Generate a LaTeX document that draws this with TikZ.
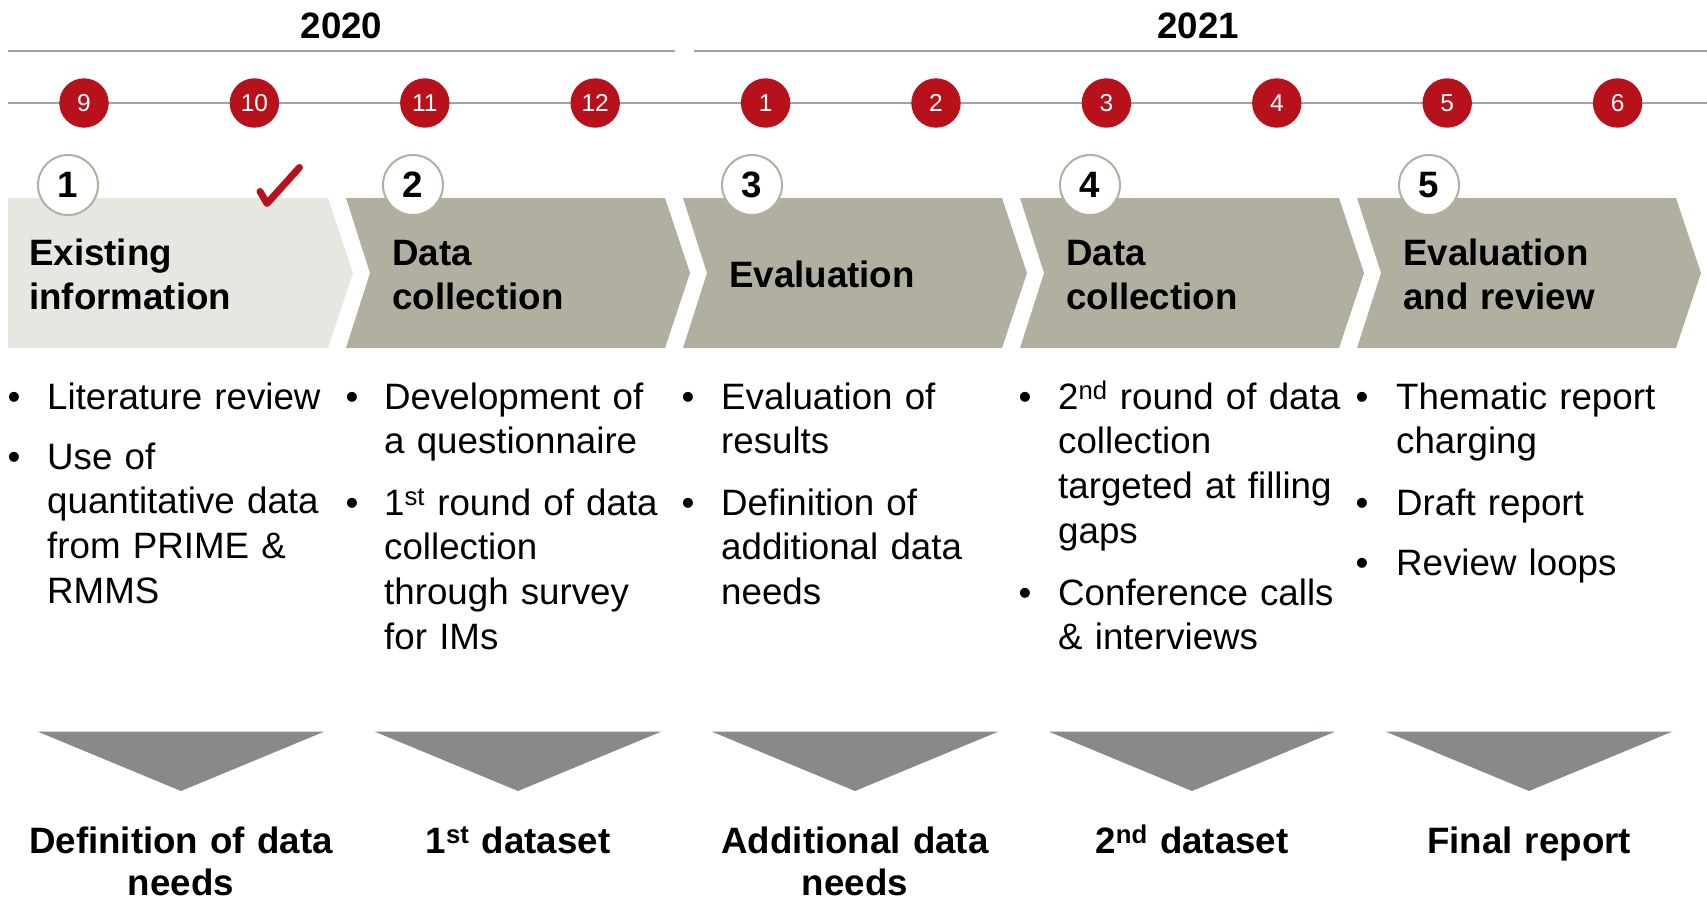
\documentclass[tikz,border=0pt]{standalone}
\usepackage{fontspec}
\setmainfont{Liberation Sans}
\definecolor{tred}{HTML}{B7121B}
\definecolor{chev}{HTML}{B1B0A0}
\definecolor{chevlight}{HTML}{E7E7E1}
\definecolor{trigray}{HTML}{88898B}
\definecolor{gline}{HTML}{A3A3A3}
\begin{document}
\begin{tikzpicture}[x=1pt,y=-1pt,
  gl/.style={draw=gline,line width=2},
  year/.style={anchor=base,inner sep=0,font=\bfseries\fontsize{36.7}{44}\selectfont},
  month/.style={circle,fill=tred,minimum size=49.4pt,inner sep=0,text=white,font=\fontsize{24.5}{24.5}\selectfont},
  stepcirc/.style={circle,draw=chev,line width=2,fill=white,minimum size=60pt,inner sep=0,font=\bfseries\fontsize{36.7}{44}\selectfont},
  head/.style={anchor=base west,inner sep=0,text width=300pt,align=left,font=\bfseries\fontsize{36.7}{44}\selectfont},
  body/.style={anchor=base west,inner sep=0,text width=330pt,align=left,font=\fontsize{36.7}{44.7}\selectfont},
  bul/.style={anchor=base,inner sep=0,font=\fontsize{36.7}{44.7}\selectfont},
  outc/.style={anchor=base,inner sep=0,text width=340pt,align=center,font=\bfseries\fontsize{36.7}{42}\selectfont}
]
\fill[white] (0,0) rectangle (1707,900);
\useasboundingbox (0,0) rectangle (1707,900);

% years
\draw[gl] (8,51) -- (675,51);
\draw[gl] (694,51) -- (1707,51);
\node[year] (y2020) at (341.5,38) {2020};
\node[year] (y2021) at (1198,38) {2021};

% months
\draw[gl] (8,103) -- (1707,103);
\foreach \m [count=\i from 0] in {9,10,11,12,1,2,3,4,5,6}
  \node[month] (m\i) at ({84+170.4*\i},103) {\m};

% chevrons
\fill[chevlight] (8,198) -- (328,198) -- (353,273) -- (328,348) -- (8,348) -- cycle;
\foreach \L in {346,683,1020,1357}
  \fill[chev] (\L,198) -- ++(319,0) -- ++(25,75) -- ++(-25,75) -- ++(-319,0) -- ++(24,-75) -- cycle;

% check mark
\draw[tred,line width=7,line cap=round,line join=round] (260,191.5) -- (267,203.5) -- (299.5,167.5);

% step circles
\node[stepcirc] (s1) at (68,185) {1};
\node[stepcirc] (s2) at (413,185) {2};
\node[stepcirc] (s3) at (752,185) {3};
\node[stepcirc] (s4) at (1090,185) {4};
\node[stepcirc] (s5) at (1429,185) {5};

% headings
\node[head] (h1) at (29,265) {Existing\\information};
\node[head] (h2) at (392,265) {Data\\collection};
\node[head] (h3) at (729,287) {Evaluation};
\node[head] (h4) at (1066,265) {Data\\collection};
\node[head] (h5) at (1403,265) {Evaluation\\and review};

% column 1
\node[bul] (b11) at (14,409) {•};
\node[body] (t11) at (47,409) {Literature review};
\node[bul] (b12) at (14,469) {•};
\node[body] (t12) at (47,469) {Use of\\quantitative data\\from PRIME \&\\RMMS};
% column 2
\node[bul] (b21) at (352,409) {•};
\node[body] (t21) at (384,409) {Development of\\a questionnaire};
\node[bul] (b22) at (352,515) {•};
\node[body] (t22) at (384,515) {1\textsuperscript{st} round of data\\collection\\through survey\\for IMs};
% column 3
\node[bul] (b31) at (688,409) {•};
\node[body] (t31) at (721,409) {Evaluation of\\results};
\node[bul] (b32) at (688,515) {•};
\node[body] (t32) at (721,515) {Definition of\\additional data\\needs};
% column 4
\node[bul] (b41) at (1025,409) {•};
\node[body] (t41) at (1058,409) {2\textsuperscript{nd} round of data\\collection\\targeted at filling\\gaps};
\node[bul] (b42) at (1025,605) {•};
\node[body] (t42) at (1058,605) {Conference calls\\\& interviews};
% column 5
\node[bul] (b51) at (1362,409) {•};
\node[body] (t51) at (1396,409) {Thematic report\\charging};
\node[bul] (b52) at (1362,515) {•};
\node[body] (t52) at (1396,515) {Draft report};
\node[bul] (b53) at (1362,575) {•};
\node[body] (t53) at (1396,575) {Review loops};

% triangles
\foreach \c in {181,518,855,1192,1529}
  \fill[trigray] (\c-143.5,731.5) -- (\c+143.5,731.5) -- (\c,791) -- cycle;

% outcomes
\node[outc] (o1) at (181,853) {Definition of data\\needs};
\node[outc] (o2) at (518,853) {1\textsuperscript{st} dataset};
\node[outc] (o3) at (855,853) {Additional data\\needs};
\node[outc] (o4) at (1192,853) {2\textsuperscript{nd} dataset};
\node[outc] (o5) at (1529,853) {Final report};
\end{tikzpicture}
\end{document}
